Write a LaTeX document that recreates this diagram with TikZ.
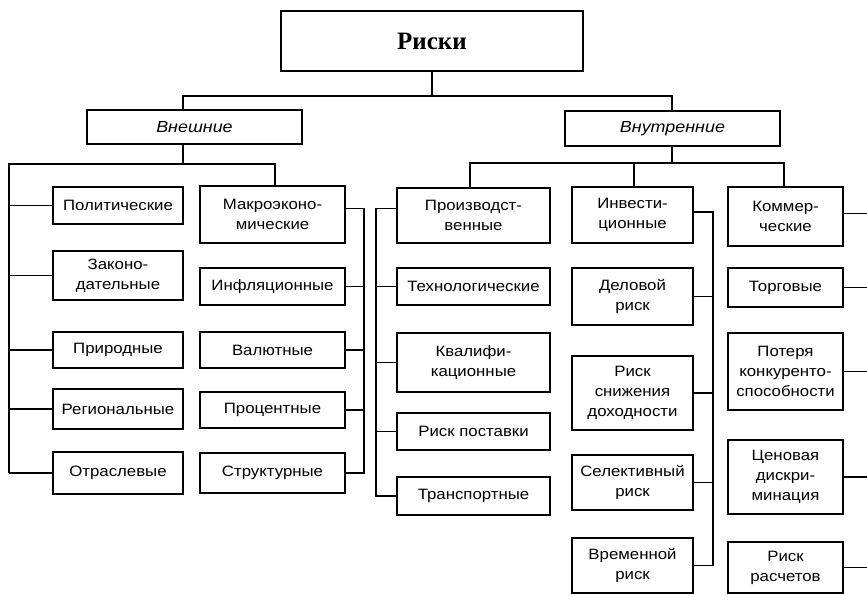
\documentclass[tikz,border=0pt]{standalone}
\usepackage{fontspec}
\setmainfont{Liberation Sans}[FakeStretch=1.12]
\newfontfamily\rootfont{Liberation Serif}
\begin{document}
\begin{tikzpicture}[x=1pt,y=-1pt,
  box/.style={draw, line width=1.6pt, inner sep=0pt, align=center,
    font=\fontsize{15}{20}\selectfont},
  ln/.style={line width=1.6pt}]
\useasboundingbox[fill=white] (0,0) rectangle (867,596);

% root and level 1
\node[box, minimum width=302, minimum height=60,
  font=\rootfont\bfseries\fontsize{25}{30}\selectfont] (root) at (432,41) {Риски};
\node[box, minimum width=215, minimum height=34, font=\itshape\fontsize{16}{18}\selectfont] (vnesh) at (194.5,127) {Внешние};
\node[box, minimum width=215, minimum height=35, font=\itshape\fontsize{16}{18}\selectfont] (vnutr) at (672.5,128.5) {Внутренние};

% column 1
\node[box, minimum width=130, minimum height=37] (pol)  at (118,205.5) {Политические};
\node[box, minimum width=130, minimum height=49] (zak)  at (118,275.5) {Законо-\\дательные};
\node[box, minimum width=130, minimum height=36] (prir) at (118,350) {Природные};
\node[box, minimum width=130, minimum height=40] (reg)  at (118,409) {Региональные};
\node[box, minimum width=130, minimum height=42] (otr)  at (118,473) {Отраслевые};

% column 2
\node[box, minimum width=145, minimum height=57] (makro)  at (272.5,214.5) {Макроэконо-\\мические};
\node[box, minimum width=145, minimum height=37] (infl)   at (272.5,286.5) {Инфляционные};
\node[box, minimum width=145, minimum height=36] (val)    at (272.5,350) {Валютные};
\node[box, minimum width=145, minimum height=36] (proc)   at (272.5,410) {Процентные};
\node[box, minimum width=145, minimum height=40] (struct) at (272.5,473) {Структурные};

% column 3
\node[box, minimum width=153, minimum height=55] (proizv) at (473.5,215.5) {Производст-\\венные};
\node[box, minimum width=153, minimum height=37] (tech)   at (473.5,286.5) {Технологические};
\node[box, minimum width=153, minimum height=59] (kval)   at (473.5,362.5) {Квалифи-\\кационные};
\node[box, minimum width=153, minimum height=37] (postav) at (473.5,431.5) {Риск поставки};
\node[box, minimum width=153, minimum height=38] (transp) at (473.5,496) {Транспортные};

% column 4
\node[box, minimum width=121, minimum height=56] (invest) at (632.5,215) {Инвести-\\ционные};
\node[box, minimum width=121, minimum height=57] (delo)   at (632.5,296.5) {Деловой\\риск};
\node[box, minimum width=121, minimum height=74] (snizh)  at (632.5,393) {Риск\\снижения\\доходности};
\node[box, minimum width=121, minimum height=55] (selekt) at (632.5,482.5) {Селективный\\риск};
\node[box, minimum width=121, minimum height=55] (vrem)   at (632.5,565.5) {Временной\\риск};

% column 5
\node[box, minimum width=115, minimum height=59] (kom)   at (785.5,216.5) {Коммер-\\ческие};
\node[box, minimum width=115, minimum height=39] (torg)  at (785.5,287.5) {Торговые};
\node[box, minimum width=115, minimum height=77] (poter) at (785.5,371.5) {Потеря\\конкуренто-\\способности};
\node[box, minimum width=115, minimum height=74] (cen)   at (785.5,477) {Ценовая\\дискри-\\минация};
\node[box, minimum width=115, minimum height=51] (ras)   at (785.5,567.5) {Риск\\расчетов};

% bus coordinates
\coordinate (hl) at (183,96);
\coordinate (hr) at (672,96);
\coordinate (lb) at (9,164);
\coordinate (lc) at (275,164);
\coordinate (b2) at (364,0);
\coordinate (b3) at (376,0);
\coordinate (rl) at (470,163);
\coordinate (rm) at (634,163);
\coordinate (rr) at (784,163);
\coordinate (b4) at (713,0);
\coordinate (re) at (867,0);

% top connectors
\draw[ln] (root.south) -- (root.south |- hl);
\draw[ln] (hl |- vnesh.north) -- (hl) -- (hr) -- (hr |- vnutr.north);

% external subtree
\draw[ln] (hl |- vnesh.south) -- (hl |- lb);
\draw[ln] (lb |- otr.west) -- (lb) -- (lc) -- (lc |- makro.north);
\foreach \n in {pol,zak,prir,reg,otr}
  \draw[ln] (\n.west) -- (\n.west -| lb);

% column 2 bus
\draw[ln] ([yshift=6pt]makro.east) -- ([yshift=6pt]makro.east -| b2) -- (b2 |- struct.east) -- (struct.east);
\foreach \n in {infl,val,proc}
  \draw[ln] (\n.east) -- (\n.east -| b2);

% internal subtree
\draw[ln] (vnutr.south -| hr) -- (hr |- rl);
\draw[ln] (rl |- proizv.north) -- (rl) -- (rr) -- (rr |- kom.north);
\draw[ln] (rm) -- (rm |- invest.north);

% column 3 bus
\draw[ln] ([yshift=7pt]proizv.west) -- ([yshift=7pt]proizv.west -| b3) -- (b3 |- transp.west) -- (transp.west);
\foreach \n in {tech,kval,postav}
  \draw[ln] (\n.west) -- (\n.west -| b3);

% column 4 bus
\draw[ln] ([yshift=3pt]invest.east) -- ([yshift=3pt]invest.east -| b4) -- (b4 |- vrem.east) -- (vrem.east);
\foreach \n in {delo,snizh,selekt}
  \draw[ln] (\n.east) -- (\n.east -| b4);

% column 5 stubs
\draw[ln] ([yshift=3pt]kom.east) -- ([yshift=3pt]kom.east -| re);
\foreach \n in {torg,poter,cen,ras}
  \draw[ln] (\n.east) -- (\n.east -| re);
\end{tikzpicture}
\end{document}
